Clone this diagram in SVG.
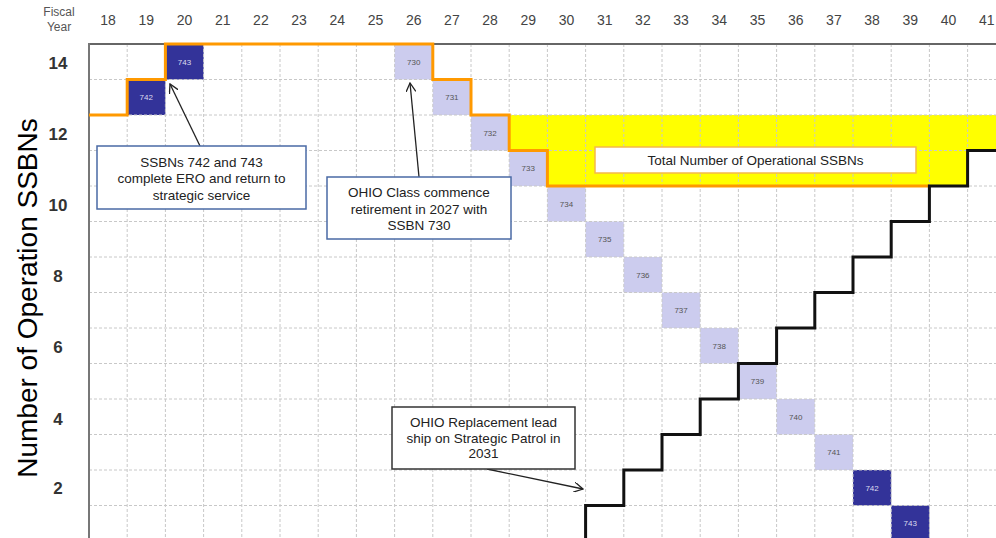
<svg xmlns="http://www.w3.org/2000/svg" width="996" height="538" viewBox="0 0 996 538">
<style>
.yr{font-family:"Liberation Sans",Arial,sans-serif;font-size:14px;fill:#444;text-anchor:middle}
.yl{font-family:"Liberation Sans",Arial,sans-serif;font-size:17px;font-weight:bold;fill:#333;text-anchor:middle}
.grid line{stroke:#c8c8c8;stroke-width:1;stroke-dasharray:3,2}
.lt{fill:#ccccee}
.dk{fill:#333399}
.bl{font-family:"Liberation Sans",Arial,sans-serif;font-size:8px;text-anchor:middle}
.lt-t{fill:#555}
.dk-t{fill:#dde}
.ann{font-family:"Liberation Sans",Arial,sans-serif;font-size:13.5px;fill:#222;text-anchor:middle}
.box{fill:#fff;stroke-width:1.5}
.arr{stroke:#222;stroke-width:1.3;fill:none;marker-end:url(#ah)}
</style>
<defs>
<marker id="ah" viewBox="0 0 10 10" refX="9" refY="5" markerWidth="10" markerHeight="10" markerUnits="userSpaceOnUse" orient="auto">
<path d="M0,0 L9,5 L0,10" fill="none" stroke="#222" stroke-width="1.3"/>
</marker>
</defs>
<rect width="996" height="538" fill="#fff"/>

<!-- yellow operational band -->
<polygon points="509.2,115 996,115 996,150.5 967.6,150.5 967.6,186 547.4,186 547.4,150.5 509.2,150.5" fill="#ffff00"/>

<!-- ship boxes -->
<g id="boxes">
<g id="b742a"><rect class="dk" x="127.2" y="79.5" width="38.2" height="35.5"/><text class="bl dk-t" x="146.3" y="100">742</text></g>
<g id="b743a"><rect class="dk" x="165.4" y="44" width="38.2" height="35.5"/><text class="bl dk-t" x="184.5" y="64.5">743</text></g>
<g id="b730"><rect class="lt" x="394.6" y="44" width="38.2" height="35.5"/><text class="bl lt-t" x="413.7" y="64.5">730</text></g>
<g id="b731"><rect class="lt" x="432.8" y="79.5" width="38.2" height="35.5"/><text class="bl lt-t" x="451.9" y="100">731</text></g>
<g id="b732"><rect class="lt" x="471" y="115" width="38.2" height="35.5"/><text class="bl lt-t" x="490.1" y="135.5">732</text></g>
<g id="b733"><rect class="lt" x="509.2" y="150.5" width="38.2" height="35.5"/><text class="bl lt-t" x="528.3" y="171">733</text></g>
<g id="b734"><rect class="lt" x="547.4" y="186" width="38.2" height="35.5"/><text class="bl lt-t" x="566.5" y="206.5">734</text></g>
<g id="b735"><rect class="lt" x="585.6" y="221.5" width="38.2" height="35.5"/><text class="bl lt-t" x="604.7" y="242">735</text></g>
<g id="b736"><rect class="lt" x="623.8" y="257" width="38.2" height="35.5"/><text class="bl lt-t" x="642.9" y="277.5">736</text></g>
<g id="b737"><rect class="lt" x="662" y="292.5" width="38.2" height="35.5"/><text class="bl lt-t" x="681.1" y="313">737</text></g>
<g id="b738"><rect class="lt" x="700.2" y="328" width="38.2" height="35.5"/><text class="bl lt-t" x="719.3" y="348.5">738</text></g>
<g id="b739"><rect class="lt" x="738.4" y="363.5" width="38.2" height="35.5"/><text class="bl lt-t" x="757.5" y="384">739</text></g>
<g id="b740"><rect class="lt" x="776.6" y="399" width="38.2" height="35.5"/><text class="bl lt-t" x="795.7" y="419.5">740</text></g>
<g id="b741"><rect class="lt" x="814.8" y="434.5" width="38.2" height="35.5"/><text class="bl lt-t" x="833.9" y="455">741</text></g>
<g id="b742b"><rect class="dk" x="853" y="470" width="38.2" height="35.5"/><text class="bl dk-t" x="872.1" y="490.5">742</text></g>
<g id="b743b"><rect class="dk" x="891.2" y="505.5" width="38.2" height="35.5"/><text class="bl dk-t" x="910.3" y="526">743</text></g>
</g>

<!-- grid -->
<g class="grid">
<line x1="127.2" y1="44" x2="127.2" y2="538"/><line x1="165.4" y1="44" x2="165.4" y2="538"/>
<line x1="203.6" y1="44" x2="203.6" y2="538"/><line x1="241.8" y1="44" x2="241.8" y2="538"/>
<line x1="280" y1="44" x2="280" y2="538"/><line x1="318.2" y1="44" x2="318.2" y2="538"/>
<line x1="356.4" y1="44" x2="356.4" y2="538"/><line x1="394.6" y1="44" x2="394.6" y2="538"/>
<line x1="432.8" y1="44" x2="432.8" y2="538"/><line x1="471" y1="44" x2="471" y2="538"/>
<line x1="509.2" y1="44" x2="509.2" y2="538"/><line x1="547.4" y1="44" x2="547.4" y2="538"/>
<line x1="585.6" y1="44" x2="585.6" y2="538"/><line x1="623.8" y1="44" x2="623.8" y2="538"/>
<line x1="662" y1="44" x2="662" y2="538"/><line x1="700.2" y1="44" x2="700.2" y2="538"/>
<line x1="738.4" y1="44" x2="738.4" y2="538"/><line x1="776.6" y1="44" x2="776.6" y2="538"/>
<line x1="814.8" y1="44" x2="814.8" y2="538"/><line x1="853" y1="44" x2="853" y2="538"/>
<line x1="891.2" y1="44" x2="891.2" y2="538"/><line x1="929.4" y1="44" x2="929.4" y2="538"/>
<line x1="967.6" y1="44" x2="967.6" y2="538"/>
<line x1="89" y1="79.5" x2="996" y2="79.5"/><line x1="89" y1="115" x2="996" y2="115"/>
<line x1="89" y1="150.5" x2="996" y2="150.5"/><line x1="89" y1="186" x2="996" y2="186"/>
<line x1="89" y1="221.5" x2="996" y2="221.5"/><line x1="89" y1="257" x2="996" y2="257"/>
<line x1="89" y1="292.5" x2="996" y2="292.5"/><line x1="89" y1="328" x2="996" y2="328"/>
<line x1="89" y1="363.5" x2="996" y2="363.5"/><line x1="89" y1="399" x2="996" y2="399"/>
<line x1="89" y1="434.5" x2="996" y2="434.5"/><line x1="89" y1="470" x2="996" y2="470"/>
<line x1="89" y1="505.5" x2="996" y2="505.5"/>
</g>

<!-- axes -->
<line x1="89" y1="44" x2="996" y2="44" stroke="#666" stroke-width="2"/>
<line x1="89" y1="43" x2="89" y2="538" stroke="#777" stroke-width="2"/>

<!-- staircases -->
<g id="connectors">
<path id="total" d="M89,115 H127.2 V79.5 H165.4 V44 H432.8 V79.5 H471 V115 H509.2 V150.5 H547.4 V186 H929.4" fill="none" stroke="#ff9900" stroke-width="3"/>
<path id="replacement" d="M585.6,541 V505.5 H623.8 V470 H662 V434.5 H700.2 V399 H738.4 V363.5 H776.6 V328 H814.8 V292.5 H853 V257 H891.2 V221.5 H929.4 V186 H967.6 V150.5 H1000" fill="none" stroke="#111" stroke-width="3"/>
<line class="arr" x1="200" y1="146" x2="170" y2="84"/>
<line class="arr" x1="419" y1="177" x2="410" y2="83"/>
<line class="arr" x1="487" y1="469" x2="583" y2="489"/>
</g>

<!-- axis labels -->
<text x="59" y="16" font-family="Liberation Sans,Arial,sans-serif" font-size="12" fill="#555" text-anchor="middle">Fiscal</text>
<text x="59" y="31" font-family="Liberation Sans,Arial,sans-serif" font-size="12" fill="#555" text-anchor="middle">Year</text>
<g>
<text class="yr" x="108.1" y="25">18</text><text class="yr" x="146.3" y="25">19</text>
<text class="yr" x="184.5" y="25">20</text><text class="yr" x="222.7" y="25">21</text>
<text class="yr" x="260.9" y="25">22</text><text class="yr" x="299.1" y="25">23</text>
<text class="yr" x="337.3" y="25">24</text><text class="yr" x="375.5" y="25">25</text>
<text class="yr" x="413.7" y="25">26</text><text class="yr" x="451.9" y="25">27</text>
<text class="yr" x="490.1" y="25">28</text><text class="yr" x="528.3" y="25">29</text>
<text class="yr" x="566.5" y="25">30</text><text class="yr" x="604.7" y="25">31</text>
<text class="yr" x="642.9" y="25">32</text><text class="yr" x="681.1" y="25">33</text>
<text class="yr" x="719.3" y="25">34</text><text class="yr" x="757.5" y="25">35</text>
<text class="yr" x="795.7" y="25">36</text><text class="yr" x="833.9" y="25">37</text>
<text class="yr" x="872.1" y="25">38</text><text class="yr" x="910.3" y="25">39</text>
<text class="yr" x="948.5" y="25">40</text><text class="yr" x="986.7" y="25">41</text>
</g>
<g>
<text class="yl" x="58" y="69">14</text>
<text class="yl" x="58" y="139.5">12</text>
<text class="yl" x="58" y="211">10</text>
<text class="yl" x="58" y="282">8</text>
<text class="yl" x="58" y="353">6</text>
<text class="yl" x="58" y="424.5">4</text>
<text class="yl" x="58" y="494">2</text>
</g>
<text transform="translate(37,298) rotate(-90)" font-family="Liberation Sans,Arial,sans-serif" font-size="28" fill="#000" text-anchor="middle">Number of Operation SSBNs</text>

<!-- annotation nodes -->
<g id="note-ero">
<rect class="box" x="97" y="146" width="209" height="63" stroke="#4a6aa5"/>
<text class="ann" x="201.5" y="166.5">SSBNs 742 and 743</text>
<text class="ann" x="201.5" y="183">complete ERO and return to</text>
<text class="ann" x="201.5" y="199.5">strategic service</text>
</g>
<g id="note-retire">
<rect class="box" x="327" y="177" width="184" height="62" stroke="#4a6aa5"/>
<text class="ann" x="419" y="196.5">OHIO Class commence</text>
<text class="ann" x="419" y="213.5">retirement in 2027 with</text>
<text class="ann" x="419" y="229.5">SSBN 730</text>
</g>
<g id="note-total">
<rect class="box" x="595" y="147" width="321" height="26" stroke="#f5b94a"/>
<text class="ann" x="755.5" y="165">Total Number of Operational SSBNs</text>
</g>
<g id="note-replacement">
<rect class="box" x="392" y="407" width="183" height="62" stroke="#333"/>
<text class="ann" x="483.5" y="426.5">OHIO Replacement lead</text>
<text class="ann" x="483.5" y="442.5">ship on Strategic Patrol in</text>
<text class="ann" x="483.5" y="457.5">2031</text>
</g>
</svg>
